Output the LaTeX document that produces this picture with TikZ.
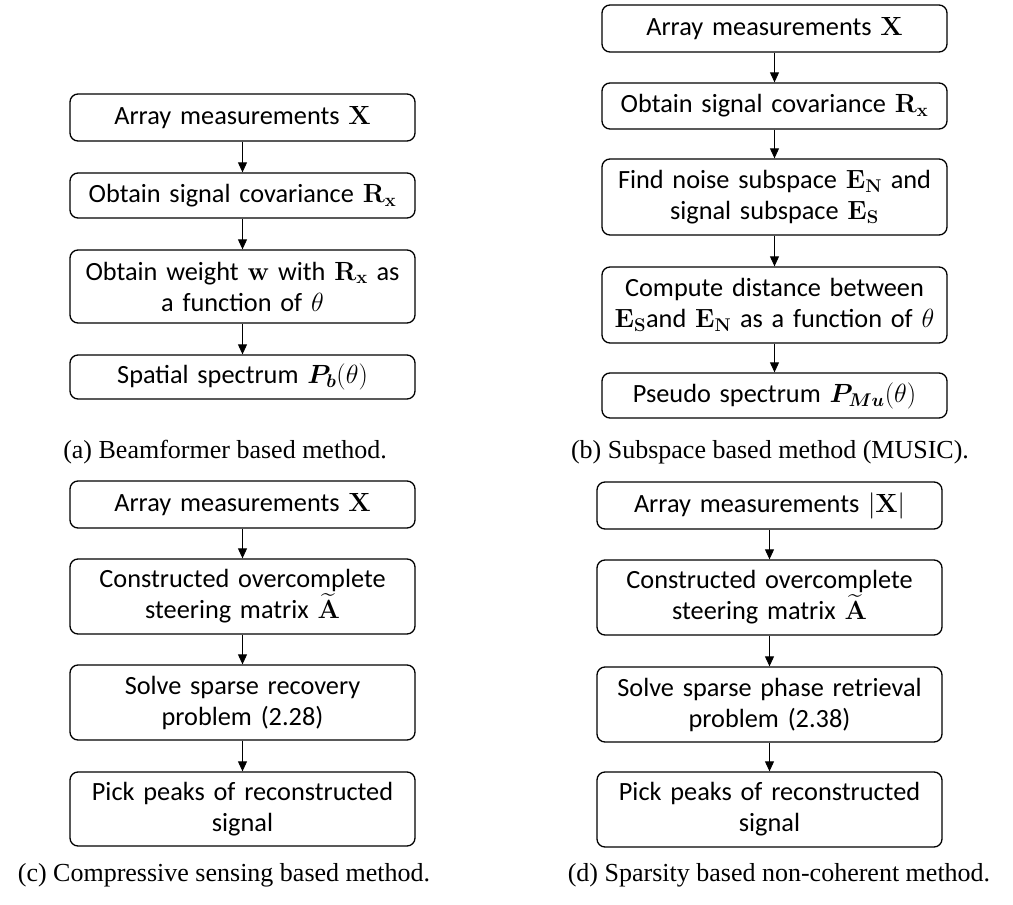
\documentclass[tikz,border=0pt]{standalone}
\usepackage{fix-cm}
\usepackage{amsmath,bm}
\usepackage[no-math]{fontspec}
\setmainfont{Carlito}
\newfontfamily\capfont{Liberation Serif}
\usetikzlibrary{arrows.meta}

\tikzset{
  stepbox/.style={draw, line width=1.3pt, rounded corners=8pt,
    text width=337pt, inner xsep=4pt, inner ysep=0pt, align=center,
    font=\fontsize{26.3}{31}\selectfont},
  flow/.style={line width=0.9pt, -{Triangle[length=10pt,width=9pt]}},
  subcap/.style={font=\capfont\fontsize{26}{30}\selectfont}
}

\begin{document}
\begin{tikzpicture}[x=1pt,y=-1pt]
  \useasboundingbox (0,0) rectangle (1013,905);
  \pgfmathsetmacro{\ColA}{242.5};
  \pgfmathsetmacro{\ColB}{774.5};
  \pgfmathsetmacro{\ColD}{769.5};
  % (a) beamformer
  \node[stepbox, minimum height=47pt] (a1) at (\ColA,117.5) {Array measurements $\mathbf{X}$};
  \node[stepbox, minimum height=45pt] (a2) at (\ColA,195.5) {Obtain signal covariance $\mathbf{R}_{\mathbf{x}}$};
  \node[stepbox, minimum height=73pt] (a3) at (\ColA,286.5) {Obtain weight $\mathbf{w}$ with $\mathbf{R}_{\mathbf{x}}$ as\\ a function of $\theta$};
  \node[stepbox, minimum height=44pt] (a4) at (\ColA,377) {Spatial spectrum $\bm{P}_{\bm{b}}(\theta)$};
  %
  % (b) subspace
  \node[stepbox, minimum height=47pt] (b1) at (\ColB,28.5) {Array measurements $\mathbf{X}$};
  \node[stepbox, minimum height=46pt] (b2) at (\ColB,106) {Obtain signal covariance $\mathbf{R}_{\mathbf{x}}$};
  \node[stepbox, minimum height=76pt] (b3) at (\ColB,197) {Find noise subspace $\mathbf{E}_{\mathbf{N}}$ and\\ signal subspace $\mathbf{E}_{\mathbf{S}}$};
  \node[stepbox, minimum height=76pt] (b4) at (\ColB,305) {Compute distance between\\ $\mathbf{E}_{\mathbf{S}}$and $\mathbf{E}_{\mathbf{N}}$ as a function of $\theta$};
  \node[stepbox, minimum height=45pt] (b5) at (\ColB,395.5) {Pseudo spectrum $\bm{P}_{\bm{Mu}}(\theta)$};
  %
  % (c) compressive sensing
  \node[stepbox, minimum height=47pt] (c1) at (\ColA,504.5) {Array measurements $\mathbf{X}$};
  \node[stepbox, minimum height=75pt] (c2) at (\ColA,596.5) {Constructed overcomplete\\ steering matrix $\widetilde{\mathbf{A}}$};
  \node[stepbox, minimum height=75pt] (c3) at (\ColA,702.5) {Solve sparse recovery\\ problem (2.28)};
  \node[stepbox, minimum height=74pt] (c4) at (\ColA,809) {Pick peaks of reconstructed\\ signal};
  %
  % (d) non-coherent
  \node[stepbox, minimum height=47pt] (d1) at (\ColD,505.5) {Array measurements $|\mathbf{X}|$};
  \node[stepbox, minimum height=75pt] (d2) at (\ColD,597.5) {Constructed overcomplete\\ steering matrix $\widetilde{\mathbf{A}}$};
  \node[stepbox, minimum height=75pt] (d3) at (\ColD,704.5) {Solve sparse phase retrieval\\ problem (2.38)};
  \node[stepbox, minimum height=75pt] (d4) at (\ColD,809.5) {Pick peaks of reconstructed\\ signal};
  %
  \foreach \u/\v in {a1/a2,a2/a3,a3/a4,b1/b2,b2/b3,b3/b4,b4/b5,c1/c2,c2/c3,c3/c4,d1/d2,d2/d3,d3/d4}
    \draw[flow] (\u.south) -- (\v.north);
  %
  \node[subcap] (capa) at (225,452) {(a) Beamformer based method.};
  \node[subcap] (capb) at (770,452) {(b) Subspace based method (MUSIC).};
  \node[subcap] (capc) at (224,875) {(c) Compressive sensing based method.};
  \node[subcap] (capd) at (779,875) {(d) Sparsity based non-coherent method.};
\end{tikzpicture}
\end{document}
